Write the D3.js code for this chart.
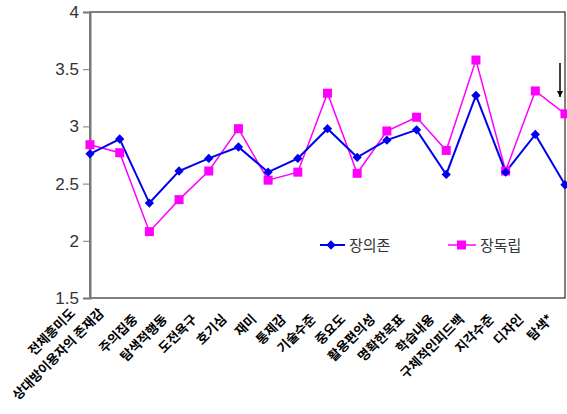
<!DOCTYPE html>
<html><head><meta charset="utf-8">
<script src="https://cdn.jsdelivr.net/npm/d3@7"></script>
<style>body{margin:0;background:#fff}svg{display:block}</style>
</head><body>
<svg id="c" width="567" height="414"></svg>
<script>
const categories = ["전체흥미도","상대방이용자의 존재감","주의집중","탐색적행동","도전욕구","호기심","재미","통제감","기술수준","중요도","활용편의성","명확한목표","학습내용","구체적인피드백","지각수준","디자인","탐색*"];
const fieldDependent = [2.76,2.89,2.33,2.61,2.72,2.82,2.60,2.72,2.98,2.73,2.88,2.97,2.58,3.27,2.60,2.93,2.49];
const fieldIndependent = [2.84,2.77,2.08,2.36,2.61,2.98,2.53,2.60,3.29,2.59,2.96,3.08,2.79,3.58,2.61,3.31,3.11];
const seriesNames = ["장의존","장독립"];
const yTicks = [1.5,2,2.5,3,3.5,4];

const svg = d3.select("#c");
const L=90, R=565, T=12, B=298;
const x = d3.scalePoint().domain(categories).range([L,R]);
const y = d3.scaleLinear().domain([1.5,4]).range([B,T]);

// frame
svg.append("rect").attr("x",L).attr("y",T).attr("width",R-L).attr("height",B-T)
  .attr("fill","none").attr("stroke","#000").attr("stroke-width",1);

// y axis
const ya = svg.append("g").attr("transform",`translate(${L},0)`)
  .call(d3.axisLeft(y).tickValues(yTicks).tickSize(7).tickPadding(4).tickFormat(d3.format("")));
ya.select(".domain").attr("stroke","#777").attr("stroke-width",2);
ya.selectAll(".tick line").attr("stroke","#777");
ya.selectAll("text").attr("font-family","Liberation Sans, Arial, sans-serif").attr("font-size",17).attr("fill","#333");

// x labels
function labelPos(d,i){
  if(i===0) return [x(d)-14, B+16];
  if(i===1) return [x(d)-15, B+16];
  return [x(d)-11, B+22];
}
svg.append("g").selectAll("text").data(categories).join("text")
  .attr("transform",(d,i)=>{const p=labelPos(d,i);return `translate(${p[0]},${p[1]}) rotate(-45)`;})
  .attr("text-anchor","end")
  .attr("font-family","Noto Sans CJK KR, sans-serif").attr("font-size",13).attr("font-weight","bold")
  .attr("fill","#000").text(d=>d);

const line = d3.line().x((d,i)=>x(categories[i])).y(d=>y(d));
svg.append("path").datum(fieldIndependent).attr("d",line).attr("fill","none").attr("stroke","#ff00ff").attr("stroke-width",1.5);
svg.append("path").datum(fieldDependent).attr("d",line).attr("fill","none").attr("stroke","#0000ee").attr("stroke-width",2);

svg.append("g").selectAll("rect").data(fieldIndependent).join("rect")
  .attr("x",(d,i)=>x(categories[i])-4.5).attr("y",d=>y(d)-4.5).attr("width",9).attr("height",9).attr("fill","#ff00ff");
const diamond = d3.symbol().type(d3.symbolDiamond2).size(55);
svg.append("g").selectAll("path").data(fieldDependent).join("path")
  .attr("transform",(d,i)=>`translate(${x(categories[i])},${y(d)})`).attr("d",diamond).attr("fill","#0000ee");

// legend
const lg = svg.append("g");
lg.append("line").attr("x1",320).attr("x2",345).attr("y1",245).attr("y2",245).attr("stroke","#0000ee").attr("stroke-width",2);
lg.append("path").attr("transform","translate(331,245)").attr("d",diamond).attr("fill","#0000ee");
lg.append("text").attr("x",349).attr("y",251).text(seriesNames[0]);
lg.append("line").attr("x1",448).attr("x2",476).attr("y1",245).attr("y2",245).attr("stroke","#ff00ff").attr("stroke-width",1.5);
lg.append("rect").attr("x",457).attr("y",240.5).attr("width",9).attr("height",9).attr("fill","#ff00ff");
lg.append("text").attr("x",480).attr("y",251).text(seriesNames[1]);
lg.selectAll("text").attr("font-family","Noto Sans CJK KR, sans-serif").attr("font-size",15).attr("fill","#333");

// arrow
svg.append("defs").append("marker").attr("id","ah").attr("viewBox","0 0 10 10").attr("refX",10).attr("refY",5)
  .attr("markerWidth",6).attr("markerHeight",8).attr("markerUnits","userSpaceOnUse").attr("orient","auto")
  .append("path").attr("d","M0,0 L10,5 L0,10 Z").attr("fill","#000");
svg.append("line").attr("x1",560).attr("x2",560).attr("y1",63).attr("y2",97).attr("stroke","#000").attr("stroke-width",1.5).attr("marker-end","url(#ah)");
</script>
</body></html>
